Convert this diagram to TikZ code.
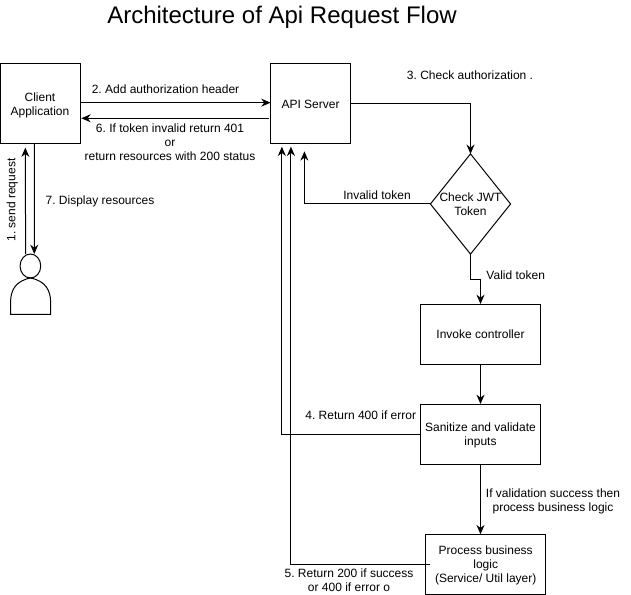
\documentclass[tikz,border=0pt]{standalone}
\usepackage{fontspec}
\setmainfont{Liberation Sans}
\usetikzlibrary{positioning,arrows.meta,shapes.geometric}

\begin{document}
\frenchspacing
\begin{tikzpicture}[x=0.75pt, y=-0.75pt,
      every node/.style={font=\fontsize{9}{10.5}\selectfont, align=center, inner sep=0pt, outer sep=0pt, text depth=0pt},
      card/.style={draw, line width=0.75pt, minimum height=60pt},
      square/.style={card, minimum width=60pt},
      wide/.style={card, minimum width=90pt, minimum height=45pt},
      decision/.style={draw, line width=0.75pt, diamond, aspect=0.8, minimum width=60pt, minimum height=75pt},
      flow/.style={line width=0.75pt, -{Stealth[length=7pt, width=6pt]}},
      plain/.style={line width=0.75pt}]
      \useasboundingbox (0,0) rectangle (631,595);
      \node[font=\fontsize{18}{21}\selectfont] (title) at (282,15) {Architecture of Api Request Flow};

      \node[square] (client) at (40,104) {Client\\Application};
      \node[square, right=142.9pt of client] (api) {API Server};
      \node[decision] (check) at (470.5,204) {Check JWT\\Token};
      \node[wide] (invoke) at (480.5,334) {Invoke controller};
      \node[wide, below=30pt of invoke] (sanitize) {Sanitize and validate\\inputs};
      \node[wide, anchor=north] (process) at (485.7,534.3) {Process business\\logic\\(Service/ Util layer)};

      % user
      \node[draw, line width=0.75pt, ellipse, minimum width=15.5pt, minimum height=18pt] (head) at (30.4,266) {};
      \draw[plain] (10.6,314.3) -- (10.6,302) .. controls (10.6,291) and (15,281) .. (head.south)
            .. controls (46,281) and (50.6,291) .. (50.6,302) -- (50.6,314.3) -- cycle;

      % requests going forward
      \draw[flow] ([xshift=-3.6pt]head.north) -- ([xshift=-11pt,yshift=-2.7pt]client.south);
      \draw[flow] ([xshift=-4.3pt]client.south) -- ([xshift=2.9pt]head.north);
      \draw[flow] ([yshift=1pt]client.east) -- ([yshift=1pt]api.west);
      \draw[flow] ([xshift=-1pt,yshift=-10.7pt]api.west) -- ([xshift=1pt,yshift=-10.7pt]client.east);
      \draw[flow] (api.east) -| (check.north);
      \draw[flow] (check.west) -| ([xshift=-4.6pt,yshift=-5.5pt]api.south);
      \draw[flow] (check.south) -- ++(0,25) -| (invoke.north);
      \draw[flow] (invoke) -- (sanitize);
      \draw[flow] (sanitize.south) -- (sanitize.south |- process.north);

      % answers going back
      \draw[flow] (sanitize.west) -| ([xshift=-21.5pt,yshift=-2pt]api.south);
      \draw[flow] ([xshift=3pt]process.west) -| ([xshift=-14.7pt,yshift=-2pt]api.south);

      \node (lbladd) at (165.5,89) {2. Add authorization header};
      \node (lblinvalid401) at (170,141.7) {6. If token invalid return 401\\or\\return resources with 200 status};
      \node (lbldisplay) at (100,200) {7. Display resources};
      \node[rotate=90] (lblsend) at (11,200) {1. send request};
      \node (lblcheck) at (470,75) {3. Check authorization .};
      \node (lblinvalid) at (377,195) {Invalid token};
      \node (lblvalid) at (515.7,274.7) {Valid token};
      \node (lblerror) at (360.7,415) {4. Return 400 if error};
      \node (lblsuccess) at (553,499.7) {If validation success then\\process business logic};
      \node (lblreturn) at (349,579.7) {5. Return 200 if success\\or 400 if error o};
    \end{tikzpicture}
\end{document}
